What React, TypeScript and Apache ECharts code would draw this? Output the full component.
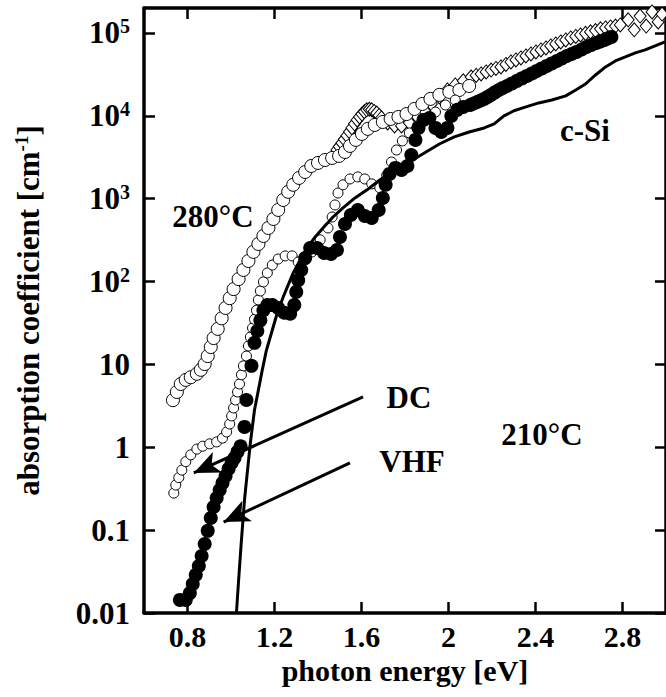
import React, { useEffect, useRef } from 'react';
import * as echarts from 'echarts';

// x tick values (photon energy, eV)
const xTicks = [0.8, 1.2, 1.6, 2.0, 2.4, 2.8];

// 280°C, open circles
const open280 = [
  [0.733, 3.7], [0.751, 4.65], [0.769, 5.8], [0.792, 6.5], [0.815, 7.0], [0.843, 7.7], [0.861, 8.6],
  [0.879, 10.1], [0.893, 12.6], [0.907, 16.2], [0.92, 20.8], [0.939, 26.8], [0.957, 36], [0.975, 48],
  [0.994, 63], [1.012, 81], [1.035, 107], [1.057, 138], [1.08, 177], [1.103, 228], [1.126, 284],
  [1.149, 355], [1.172, 443], [1.195, 569], [1.217, 731], [1.24, 965], [1.263, 1210], [1.286, 1470],
  [1.313, 1780], [1.341, 2100], [1.369, 2480], [1.4, 2700], [1.432, 2930], [1.465, 3100], [1.497, 3280],
  [1.524, 3660], [1.547, 4330], [1.574, 5120], [1.602, 6040], [1.629, 6950], [1.661, 7760], [1.698, 8430],
  [1.734, 9160], [1.77, 9680], [1.807, 10500], [1.844, 12100], [1.88, 13900], [1.917, 16000],
  [1.958, 17900], [2.004, 19400], [2.05, 20500], [2.095, 22900],
];

// 280°C, open diamonds
const diamond280 = [
  [1.487, 3870], [1.498, 4260], [1.51, 4700], [1.521, 5200], [1.533, 5750], [1.545, 6400], [1.556, 7140],
  [1.568, 8000], [1.58, 8910], [1.591, 9700], [1.602, 10500], [1.613, 11200], [1.624, 11800], [1.636, 12000],
  [1.647, 11800], [1.658, 11300], [1.67, 10800], [1.681, 10100], [1.692, 9420], [1.72, 8200], [1.752, 7550],
  [1.784, 7550], [1.82, 8200], [1.857, 9680], [1.889, 11500], [1.921, 13900], [1.958, 16900], [1.995, 20500],
  [2.031, 23600], [2.068, 26400], [2.104, 29400], [2.127, 30700], [2.15, 32000], [2.173, 33800],
  [2.196, 35700], [2.218, 37300], [2.241, 38900], [2.264, 41700], [2.287, 44700], [2.31, 47200],
  [2.333, 49900], [2.356, 52800], [2.379, 55800], [2.402, 59000], [2.425, 62400], [2.448, 66000],
  [2.47, 69700], [2.493, 73700], [2.516, 77800], [2.539, 82400], [2.562, 87100], [2.585, 90800],
  [2.607, 94600], [2.63, 98800], [2.653, 103000], [2.676, 107000], [2.699, 112000], [2.722, 115000],
  [2.745, 118000], [2.768, 121000], [2.79, 125000], [2.826, 144000], [2.854, 109000], [2.881, 160000],
  [2.909, 121000], [2.936, 179000], [2.964, 136000], [2.982, 169000],
];

// 210°C DC, small open circles
const dc210 = [
  [0.737, 0.28], [0.746, 0.35], [0.76, 0.43], [0.774, 0.53], [0.792, 0.67], [0.815, 0.81], [0.843, 0.95],
  [0.87, 1.03], [0.902, 1.1], [0.934, 1.16], [0.961, 1.29], [0.98, 1.53], [0.994, 1.91], [1.003, 2.39],
  [1.012, 2.98], [1.021, 3.72], [1.03, 4.65], [1.039, 5.8], [1.048, 7.5], [1.057, 9.6], [1.071, 12.6],
  [1.08, 16.7], [1.089, 21.4], [1.099, 27.5], [1.108, 35], [1.117, 45], [1.126, 60], [1.135, 77],
  [1.149, 99], [1.167, 127], [1.19, 158], [1.217, 187], [1.249, 204], [1.281, 204], [1.309, 172],
  [1.373, 228], [1.41, 318], [1.446, 443], [1.465, 601], [1.478, 840], [1.492, 1170], [1.515, 1470],
  [1.547, 1730], [1.583, 1830], [1.615, 1730], [1.647, 1510], [1.684, 1350], [1.716, 1930], [1.738, 2770],
  [1.761, 3870], [1.788, 4980], [1.82, 6210], [1.857, 7550], [1.898, 9160], [1.94, 11100], [1.986, 13500],
  [2.031, 15500],
];

// 210°C VHF, filled circles
const vhf210 = [
  [0.765, 0.0144], [0.792, 0.0144], [0.811, 0.0174], [0.824, 0.0224], [0.838, 0.0288], [0.852, 0.0369],
  [0.865, 0.0488], [0.879, 0.068], [0.893, 0.098], [0.907, 0.14], [0.92, 0.19], [0.934, 0.244],
  [0.948, 0.305], [0.961, 0.37], [0.975, 0.45], [0.989, 0.55], [1.003, 0.65], [1.016, 0.74], [1.03, 0.88],
  [1.044, 1.03], [1.062, 1.76], [1.071, 3.72], [1.094, 9.6], [1.108, 18.2], [1.121, 25.3], [1.135, 34],
  [1.149, 45], [1.167, 52], [1.19, 52], [1.217, 48], [1.245, 42], [1.272, 41], [1.291, 52], [1.3, 75],
  [1.309, 104], [1.323, 138], [1.341, 192], [1.364, 254], [1.396, 254], [1.428, 221], [1.46, 215],
  [1.487, 240], [1.501, 345], [1.524, 495], [1.551, 636], [1.583, 731], [1.615, 618], [1.647, 585],
  [1.679, 731], [1.698, 1020], [1.711, 1470], [1.729, 1990], [1.756, 2350], [1.784, 2220], [1.811, 2480],
  [1.829, 3370], [1.848, 5120], [1.862, 7140], [1.885, 8910], [1.912, 9420], [1.94, 7140], [1.967, 6380],
  [1.995, 7140], [2.013, 9960], [2.04, 11800], [2.068, 12800], [2.1, 13500], [2.116, 14100], [2.132, 14700],
  [2.148, 15300], [2.164, 16000], [2.18, 16900], [2.196, 17900], [2.214, 19200], [2.232, 20500],
  [2.25, 21700], [2.269, 22900], [2.292, 24600], [2.315, 26400], [2.338, 28300], [2.361, 30300],
  [2.384, 32500], [2.406, 34800], [2.429, 37300], [2.452, 40000], [2.475, 42900], [2.498, 45900],
  [2.521, 49200], [2.544, 52700], [2.566, 55800], [2.589, 59000], [2.612, 63200], [2.635, 67800],
  [2.657, 71600], [2.68, 75700], [2.699, 79000], [2.717, 82200], [2.733, 86000], [2.749, 89500],
];

// crystalline silicon reference curve
const cSi = [
  [1.025, 0.01], [1.035, 0.025], [1.048, 0.076], [1.062, 0.23], [1.076, 0.53], [1.089, 1.13], [1.108, 2.82],
  [1.126, 4.9], [1.144, 8.6], [1.163, 14.9], [1.19, 26], [1.213, 42], [1.24, 65], [1.286, 127], [1.318, 182],
  [1.35, 254], [1.387, 345], [1.423, 443], [1.469, 601], [1.515, 773], [1.57, 1020], [1.624, 1270],
  [1.684, 1680], [1.752, 2220], [1.82, 2770], [1.889, 3560], [1.958, 4570], [2.027, 5560], [2.095, 6380],
  [2.164, 7140], [2.21, 7980], [2.255, 9960], [2.301, 11500], [2.356, 12800], [2.415, 14300],
  [2.475, 15500], [2.539, 17400], [2.585, 20500], [2.63, 24200], [2.676, 31100], [2.722, 38900],
  [2.767, 45900], [2.813, 51300], [2.859, 57400], [2.904, 62400], [2.95, 69700], [2.995, 77800],
];

// annotation arrows: [from, to] in (eV, cm^-1)
const arrowDC = [[1.607, 4.05], [0.829, 0.49]];
const arrowVHF = [[1.547, 0.65], [0.966, 0.125]];

const FONT = '"Liberation Serif", "Times New Roman", serif';
const textBase = { color: '#000', fontFamily: FONT, fontWeight: 'bold' as const };

const smallLabels: Record<number, string> = { [-2]: '0.01', [-1]: '0.1', 0: '1', 1: '10' };

function yFormatter(v: number): string {
  const e = Math.log10(v);
  const r = Math.round(e);
  if (Math.abs(e - r) > 1e-6) return '';
  if (r <= 1) return smallLabels[r];
  return '10{sup|' + r + '}';
}

export default function App() {
  const ref = useRef<HTMLDivElement>(null);
  useEffect(() => {
    const chart = echarts.init(ref.current!, null, { renderer: 'svg' });
    const axisLine = { show: true, onZero: false, lineStyle: { color: '#000', width: 3.5 } };
    const tick = { show: true, inside: true, length: 11, lineStyle: { color: '#000', width: 2.5 } };
    const openStyle = { color: '#fff', borderColor: '#000', borderWidth: 1, opacity: 1 };
    const annot = (text: string, x: number, y: number) => ({
      type: 'text', x, y,
      style: { text, font: 'bold 31px ' + FONT, fill: '#000', textAlign: 'center', textVerticalAlign: 'middle' },
    });
    chart.setOption({
      animation: false,
      backgroundColor: '#fff',
      grid: { left: 144, top: 8, width: 524, height: 605 },
      xAxis: [
        {
          type: 'value', min: 0.6, max: 3.0, position: 'bottom',
          axisLine, axisTick: { ...tick, customValues: xTicks },
          axisLabel: { ...textBase, fontSize: 30, margin: 8, customValues: xTicks, formatter: (v: number) => String(v) },
          splitLine: { show: false },
          name: 'photon energy [eV]', nameLocation: 'middle', nameGap: 33,
          nameTextStyle: { ...textBase, fontSize: 30 },
        },
        {
          type: 'value', min: 0.6, max: 3.0, position: 'top',
          axisLine, axisTick: { ...tick, customValues: xTicks },
          axisLabel: { show: false }, splitLine: { show: false },
        },
      ],
      yAxis: [
        {
          type: 'log', logBase: 10, min: 0.01, max: 2e5, position: 'left',
          axisLine, axisTick: tick,
          axisLabel: {
            ...textBase, fontSize: 31, margin: 14, formatter: yFormatter, showMaxLabel: false,
            rich: { sup: { ...textBase, fontSize: 20, padding: [0, 0, 14, 0] } },
          },
          splitLine: { show: false },
          name: 'absorption coefficient [cm{sup|-1}]', nameLocation: 'middle', nameGap: 100, nameRotate: 90,
          nameTextStyle: { ...textBase, fontSize: 31, rich: { sup: { ...textBase, fontSize: 19, padding: [0, 0, 13, 0] } } },
        },
        {
          type: 'log', logBase: 10, min: 0.01, max: 2e5, position: 'right',
          axisLine, axisTick: tick, axisLabel: { show: false }, splitLine: { show: false },
        },
      ],
      series: [
        { name: '280°C diamonds', type: 'scatter', data: diamond280, symbol: 'diamond', symbolSize: [12, 14], itemStyle: openStyle },
        { name: '280°C circles', type: 'scatter', data: open280, symbol: 'circle', symbolSize: 13, itemStyle: openStyle },
        { name: '210°C DC', type: 'scatter', data: dc210, symbol: 'circle', symbolSize: 10, itemStyle: openStyle },
        { name: '210°C VHF', type: 'scatter', data: vhf210, symbol: 'circle', symbolSize: 14, itemStyle: { color: '#000', opacity: 1 } },
        {
          name: 'c-Si', type: 'line', data: cSi, showSymbol: false, symbol: 'none',
          lineStyle: { color: '#000', width: 3 },
          markLine: {
            silent: true, symbol: ['none', 'arrow'], symbolSize: [17, 26],
            lineStyle: { color: '#000', width: 3, type: 'solid' }, label: { show: false },
            data: [
              [{ coord: arrowDC[0] }, { coord: arrowDC[1] }],
              [{ coord: arrowVHF[0] }, { coord: arrowVHF[1] }],
            ],
          },
        },
      ],
      graphic: [
        annot('280°C', 213, 216),
        annot('c-Si', 585, 130),
        annot('DC', 409, 397),
        annot('VHF', 412, 461),
        annot('210°C', 542, 434),
      ],
    });
    return () => chart.dispose();
  }, []);
  return <div ref={ref} style={{ position: 'absolute', left: 0, top: 0, width: 666, height: 697 }} />;
}
